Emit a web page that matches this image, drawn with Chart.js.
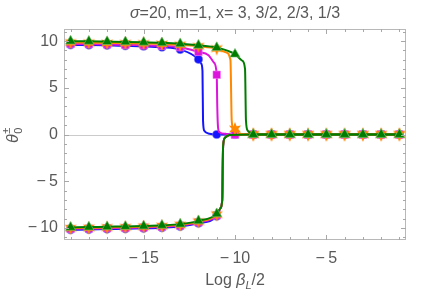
<!DOCTYPE html>
<html>
<head>
<meta charset="utf-8">
<script src="https://cdn.jsdelivr.net/npm/chart.js@4/dist/chart.umd.min.js"></script>
<style>
  body { margin: 0; background: #fff; }
  #wrap { width: 436px; height: 290px; }
</style>
</head>
<body>
<div id="wrap"><canvas id="plot" width="436" height="290"></canvas></div>
<script>
// Marker positions (Log beta_L / 2)
const xMarks = [-19, -18, -17, -16, -15, -14, -13, -12, -11, -10, -9, -8, -7, -6, -5, -4, -3, -2, -1];

// theta_0^+ branch, read at the markers
const blueUpper    = [9.6, 9.58, 9.55, 9.5, 9.45, 9.35, 9.1, 8.05, 0, 0, 0, 0, 0, 0, 0, 0, 0, 0, 0];
const magentaUpper = [9.7, 9.68, 9.65, 9.6, 9.55, 9.5, 9.35, 8.85, 6.4, 0, 0, 0, 0, 0, 0, 0, 0, 0, 0];
const orangeUpper  = [9.85, 9.83, 9.8, 9.78, 9.75, 9.7, 9.6, 9.45, 9.2, 0.6, 0, 0, 0, 0, 0, 0, 0, 0, 0];
const greenUpper   = [10.0, 9.98, 9.95, 9.92, 9.88, 9.82, 9.72, 9.55, 9.3, 8.6, 0, 0, 0, 0, 0, 0, 0, 0, 0];

// theta_0^- branch, read at the markers (null: no marker visible there)
const blueLower    = [-10.2, -10.17, -10.13, -10.1, -10.05, -9.98, -9.85, -9.5, -8.75, 0, 0, 0, 0, 0, 0, 0, 0, 0, 0];
const magentaLower = [-10.11, -10.08, -10.04, -10.01, -9.96, -9.89, -9.76, -9.41, -8.66, 0, 0, 0, 0, 0, 0, 0, 0, 0, 0];
const orangeLower  = [-10.03, -10.0, -9.96, -9.93, -9.88, -9.81, -9.68, -9.33, -8.58, null, 0, 0, 0, 0, 0, 0, 0, 0, 0];
const greenLower   = [-9.95, -9.92, -9.88, -9.85, -9.8, -9.73, -9.6, -9.25, -8.5, null, 0, 0, 0, 0, 0, 0, 0, 0, 0];

// extra points read along the steep jumps of the curves
const blueJumpX    = [-11.85, -11.78, -11.75, -11.68, -11.4];
const blueJumpY    = [7.6, 6.8, 1.5, 0.4, 0.08];
const magentaJumpX = [-11.45, -11.15, -10.97, -10.93, -10.85, -10.5];
const magentaJumpY = [8.5, 7.7, 3.0, 0.8, 0.25, 0.07];
const orangeJumpX  = [-10.5, -10.25, -10.18, -10.1, -9.8];
const orangeJumpY  = [8.8, 8.0, 1.5, 0.7, 0.1];
const greenJumpX   = [-9.6, -9.45, -9.4, -9.3, -9.05];
const greenJumpY   = [7.9, 7.0, 1.5, 0.4, 0.1];
const lowerJumpX   = [-10.8, -10.7, -10.65, -10.55, -10.3];
const lowerJumpY   = [-7.9, -7.0, -1.2, -0.35, -0.06];

// axes
const xTicks = [-15, -10, -5];
const yTicks = [-10, -5, 0, 5, 10];
const xMin = -19.36, xMax = -0.64;
const yMin = -11.3, yMax = 11.3;

const titleText = 'σ=20, m=1, x= 3, 3/2, 2/3, 1/3';
const FONT = '"Liberation Sans", Arial, sans-serif';
const TEXT_GRAY = '#595959';

function pts(xs, ys) {
  return xs.map((x, i) => ({ x: x, y: ys[i] })).filter(p => p.y !== null);
}
function curve(ys, jx, jy) {
  return pts(xMarks, ys).concat(pts(jx, jy)).sort((a, b) => a.x - b.x);
}

// filled star used as orange marker
function starMarker(color, rOut, rIn, n) {
  const c = document.createElement('canvas');
  const s = Math.ceil(rOut * 2 + 2);
  c.width = s; c.height = s;
  const g = c.getContext('2d');
  g.translate(s / 2, s / 2);
  g.beginPath();
  for (let i = 0; i < n * 2; i++) {
    const r = i % 2 === 0 ? rOut : rIn;
    const a = -Math.PI / 2 + i * Math.PI / n;
    g.lineTo(r * Math.cos(a), r * Math.sin(a));
  }
  g.closePath();
  g.fillStyle = color;
  g.fill();
  return c;
}

const series = [
  { color: '#1414ff', up: blueUpper, lo: blueLower, jx: blueJumpX, jy: blueJumpY, style: 'circle', r: 4.1, halo: 'rgba(120,120,255,0.6)' },
  { color: '#dc14dc', up: magentaUpper, lo: magentaLower, jx: magentaJumpX, jy: magentaJumpY, style: 'rect', r: 5.3, halo: 'rgba(240,120,240,0.6)' },
  { color: '#ff8800', up: orangeUpper, lo: orangeLower, jx: orangeJumpX, jy: orangeJumpY, style: starMarker('#ff8800', 7, 3.2, 6), r: 6, halo: 'rgba(255,180,100,0.6)' },
  { color: '#007d00', up: greenUpper, lo: greenLower, jx: greenJumpX, jy: greenJumpY, style: 'triangle', r: 5.8, halo: 'rgba(120,190,120,0.6)' }
];

const datasets = [];
series.forEach((s, k) => {
  const lineOrder = 20 - k * 4;
  [curve(s.up, s.jx, s.jy), curve(s.lo, lowerJumpX, lowerJumpY)].forEach(d => {
    datasets.push({
      data: d,
      borderColor: s.color,
      borderWidth: 2,
      pointRadius: 0,
      cubicInterpolationMode: 'monotone',
      fill: false,
      order: lineOrder
    });
  });
  datasets.push({
    data: pts(xMarks, s.up).concat(pts(xMarks, s.lo)),
    showLine: false,
    pointStyle: s.style,
    pointRadius: s.r,
    backgroundColor: s.color,
    borderColor: s.halo,
    borderWidth: 1,
    order: lineOrder - 1
  });
});

// frame, inward ticks, zero line, title and axis labels
const framePlugin = {
  id: 'frame',
  beforeDatasetsDraw(chart) {
    const { ctx, chartArea: a, scales } = chart;
    const y0 = Math.round(scales.y.getPixelForValue(0)) + 0.5;
    ctx.save();
    ctx.strokeStyle = '#cbcbcb';
    ctx.lineWidth = 1;
    ctx.beginPath();
    ctx.moveTo(a.left, y0);
    ctx.lineTo(a.right, y0);
    ctx.stroke();
    ctx.restore();
  },
  afterDraw(chart) {
    const { ctx, chartArea: a, scales } = chart;
    ctx.save();
    ctx.strokeStyle = '#b8b8b8';
    ctx.lineWidth = 1;
    ctx.strokeRect(Math.round(a.left) + 0.5, Math.round(a.top) + 0.5,
      Math.round(a.right - a.left) - 1, Math.round(a.bottom - a.top) - 1);

    ctx.strokeStyle = '#a8a8a8';
    ctx.beginPath();
    for (let v = -19; v <= -1; v++) {
      const px = Math.round(scales.x.getPixelForValue(v)) + 0.5;
      const len = v % 5 === 0 ? 5 : 3;
      ctx.moveTo(px, a.bottom); ctx.lineTo(px, a.bottom - len);
      ctx.moveTo(px, a.top); ctx.lineTo(px, a.top + len);
    }
    for (let v = -11; v <= 11; v++) {
      const py = Math.round(scales.y.getPixelForValue(v)) + 0.5;
      const len = v % 5 === 0 ? 5 : 3;
      ctx.moveTo(a.left, py); ctx.lineTo(a.left + len, py);
      ctx.moveTo(a.right, py); ctx.lineTo(a.right - len, py);
    }
    ctx.stroke();

    const cx = (a.left + a.right) / 2;
    ctx.fillStyle = TEXT_GRAY;
    ctx.textBaseline = 'alphabetic';

    // title
    const head = titleText.slice(1);
    ctx.font = 'italic 16px ' + FONT;
    const wSig = ctx.measureText('σ').width;
    ctx.font = '16px ' + FONT;
    const wHead = ctx.measureText(head).width;
    let tx = cx - (wSig + wHead) / 2;
    ctx.textAlign = 'left';
    ctx.font = 'italic 16px ' + FONT;
    ctx.fillText('σ', tx, 18);
    ctx.font = '16px ' + FONT;
    ctx.fillText(head, tx + wSig, 18);

    // x label: Log beta_L/2
    const parts = [
      { t: 'Log ', f: '16px ', dy: 0 },
      { t: 'β', f: 'italic 16px ', dy: 0 },
      { t: 'L', f: 'italic 11px ', dy: 4 },
      { t: '/2', f: '16px ', dy: 0 }
    ];
    let total = 0;
    parts.forEach(p => { ctx.font = p.f + FONT; p.w = ctx.measureText(p.t).width; total += p.w; });
    let lx = cx - total / 2;
    parts.forEach(p => {
      ctx.font = p.f + FONT;
      ctx.fillText(p.t, lx, 285 + p.dy);
      lx += p.w;
    });

    // y label: theta_0^pm, rotated
    ctx.translate(18, 143);
    ctx.rotate(-Math.PI / 2);
    ctx.font = 'italic 16px ' + FONT;
    ctx.fillText('θ', 0, 0);
    const wt = ctx.measureText('θ').width;
    ctx.font = '11px ' + FONT;
    ctx.fillText('0', wt + 0.5, 4);
    ctx.fillText('±', wt + 0.5, -8);
    ctx.restore();
  }
};

const minus = v => (v < 0 ? '\u2212\u2009' + Math.abs(v) : String(v));

new Chart(document.getElementById('plot'), {
  type: 'line',
  data: { datasets: datasets },
  plugins: [framePlugin],
  options: {
    responsive: false,
    animation: false,
    events: [],
    layout: { padding: { top: 29, right: 30, left: 0, bottom: 0 } },
    plugins: { legend: { display: false }, tooltip: { enabled: false }, title: { display: false } },
    scales: {
      x: {
        type: 'linear',
        min: xMin,
        max: xMax,
        afterBuildTicks: s => { s.ticks = xTicks.map(v => ({ value: v })); },
        afterFit: s => { s.height = 50; },
        grid: { display: false, drawTicks: false },
        border: { display: false },
        ticks: {
          color: TEXT_GRAY,
          font: { family: FONT, size: 16 },
          padding: 9,
          maxRotation: 0,
          callback: v => minus(v)
        }
      },
      y: {
        type: 'linear',
        min: yMin,
        max: yMax,
        afterBuildTicks: s => { s.ticks = yTicks.map(v => ({ value: v })); },
        afterFit: s => { s.width = 64; },
        grid: { display: false, drawTicks: false },
        border: { display: false },
        ticks: {
          color: TEXT_GRAY,
          font: { family: FONT, size: 16 },
          padding: 6,
          callback: v => minus(v)
        }
      }
    }
  }
});
</script>
</body>
</html>
